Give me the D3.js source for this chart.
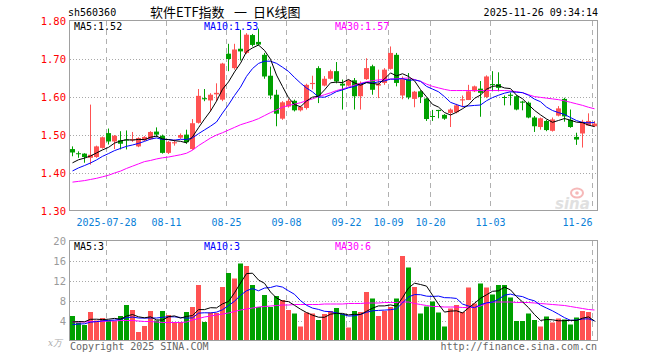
<!DOCTYPE html>
<html><head><meta charset="utf-8">
<script src="https://cdn.jsdelivr.net/npm/d3@7"></script>
<style>html,body{margin:0;padding:0;background:#fff}svg{display:block}</style>
</head><body>
<svg id="c" width="660" height="360"></svg>
<script>
const dates = ["2025-07-18","2025-07-21","2025-07-22","2025-07-23","2025-07-24","2025-07-25","2025-07-28","2025-07-29","2025-07-30","2025-07-31",
"2025-08-01","2025-08-04","2025-08-05","2025-08-06","2025-08-07","2025-08-08","2025-08-11","2025-08-12","2025-08-13","2025-08-14","2025-08-15","2025-08-18","2025-08-19","2025-08-20","2025-08-21","2025-08-22","2025-08-25","2025-08-26","2025-08-27","2025-08-28","2025-08-29",
"2025-09-01","2025-09-02","2025-09-03","2025-09-04","2025-09-05","2025-09-08","2025-09-09","2025-09-10","2025-09-11","2025-09-12","2025-09-15","2025-09-16","2025-09-17","2025-09-18","2025-09-19","2025-09-22","2025-09-23","2025-09-24","2025-09-25","2025-09-26","2025-09-29","2025-09-30",
"2025-10-09","2025-10-10","2025-10-13","2025-10-14","2025-10-15","2025-10-16","2025-10-17","2025-10-20","2025-10-21","2025-10-22","2025-10-23","2025-10-24","2025-10-27","2025-10-28","2025-10-29","2025-10-30","2025-10-31",
"2025-11-03","2025-11-04","2025-11-05","2025-11-06","2025-11-07","2025-11-10","2025-11-11","2025-11-12","2025-11-13","2025-11-14","2025-11-17","2025-11-18","2025-11-19","2025-11-20","2025-11-21","2025-11-24","2025-11-25","2025-11-26"];

const opens = [1.463,1.452,1.451,1.440,1.442,1.466,1.505,1.483,1.486,1.488,
1.486,1.470,1.486,1.489,1.509,1.498,1.453,1.478,1.493,1.501,
1.463,1.532,1.597,1.591,1.607,1.593,1.714,1.676,1.727,1.716,
1.763,1.745,1.711,1.656,1.606,1.543,1.575,1.590,1.565,1.571,
1.634,1.676,1.630,1.648,1.668,1.635,1.630,1.644,1.602,1.647,
1.681,1.630,1.637,1.674,1.711,1.604,1.647,1.595,1.615,1.596,
1.550,1.566,1.553,1.558,1.560,1.591,1.592,1.615,1.622,1.600,
1.634,1.634,1.600,1.606,1.602,1.588,1.585,1.546,1.521,1.537,
1.511,1.551,1.595,1.540,1.495,1.504,1.525,1.523];
const closes = [1.454,1.450,1.442,1.448,1.470,1.494,1.483,1.498,1.477,1.486,
1.489,1.492,1.495,1.508,1.501,1.453,1.482,1.481,1.500,1.481,
1.531,1.603,1.594,1.606,1.611,1.688,1.700,1.725,1.720,1.764,
1.737,1.738,1.654,1.604,1.556,1.586,1.590,1.565,1.574,1.632,
1.637,1.602,1.648,1.668,1.641,1.630,1.644,1.602,1.637,1.676,
1.619,1.634,1.672,1.716,1.637,1.647,1.599,1.614,1.600,1.542,
1.548,1.563,1.543,1.567,1.578,1.594,1.615,1.628,1.611,1.654,
1.632,1.624,1.598,1.603,1.567,1.585,1.546,1.523,1.544,1.513,
1.541,1.570,1.549,1.521,1.488,1.535,1.537,1.530];
const highs = [1.470,1.457,1.452,1.580,1.472,1.496,1.517,1.500,1.510,1.512,
1.508,1.494,1.497,1.510,1.520,1.501,1.484,1.488,1.504,1.514,
1.542,1.621,1.621,1.610,1.636,1.690,1.740,1.740,1.777,1.768,
1.766,1.780,1.716,1.680,1.619,1.589,1.595,1.593,1.577,1.635,
1.656,1.681,1.655,1.672,1.692,1.646,1.646,1.650,1.641,1.702,
1.685,1.672,1.676,1.733,1.716,1.654,1.663,1.616,1.618,1.598,
1.566,1.566,1.555,1.570,1.582,1.604,1.632,1.630,1.642,1.657,
1.668,1.665,1.604,1.612,1.605,1.590,1.588,1.550,1.546,1.540,
1.546,1.576,1.598,1.567,1.506,1.540,1.557,1.537];
const lows = [1.444,1.440,1.427,1.422,1.440,1.464,1.475,1.463,1.462,1.462,
1.482,1.468,1.484,1.487,1.495,1.451,1.450,1.472,1.490,1.477,
1.461,1.530,1.589,1.562,1.589,1.589,1.668,1.672,1.696,1.713,
1.733,1.735,1.648,1.594,1.523,1.540,1.572,1.562,1.562,1.567,
1.620,1.584,1.628,1.646,1.636,1.567,1.628,1.567,1.567,1.645,
1.606,1.597,1.632,1.672,1.628,1.594,1.594,1.573,1.584,1.537,
1.537,1.544,1.540,1.521,1.557,1.573,1.592,1.613,1.548,1.597,
1.615,1.615,1.578,1.578,1.565,1.565,1.544,1.508,1.514,1.510,
1.509,1.549,1.535,1.519,1.474,1.467,1.525,1.521];
const volumes = [5.0,3.7,3.2,5.8,4.1,4.6,4.1,4.0,5.0,7.2,
6.2,1.8,3.0,6.0,4.1,6.0,5.2,3.8,3.8,5.8,
6.8,11.2,3.8,5.7,5.6,10.8,13.6,12.5,15.5,15.0,
11.2,6.8,9.2,6.8,9.0,8.2,6.2,5.5,2.9,5.7,
5.5,4.2,5.4,6.0,6.6,5.4,2.7,6.0,5.8,9.8,
8.5,5.0,6.0,6.8,8.5,17.0,14.7,10.8,5.5,6.9,
7.9,5.7,2.9,6.5,7.2,5.8,10.7,7.5,11.5,10.7,
9.3,11.2,11.2,8.7,4.0,4.0,5.5,4.2,2.9,4.9,
3.7,4.5,4.3,3.3,4.7,6.0,5.8,0.2];
// closes / volumes of the 9 sessions before the window (read from MA starting levels)
const priorCloses = [1.37,1.38,1.38,1.39,1.40,1.41,1.42,1.42,1.43];
const priorVolumes = [2.5,2.8,2.6,3.0,2.9,3.2,3.5,3.3,4.0];
const ma30Price = [1.376,1.378,1.380,1.383,1.386,1.390,1.394,1.400,1.405,1.412,
1.418,1.424,1.430,1.433,1.437,1.440,1.442,1.445,1.448,1.452,
1.460,1.472,1.482,1.492,1.500,1.506,1.513,1.520,1.527,1.532,
1.537,1.543,1.551,1.559,1.566,1.573,1.578,1.581,1.585,1.590,
1.595,1.601,1.606,1.611,1.617,1.621,1.626,1.631,1.636,1.640,
1.643,1.645,1.646,1.647,1.648,1.649,1.650,1.646,1.641,1.634,
1.628,1.624,1.620,1.617,1.617,1.617,1.617,1.617,1.617,1.617,
1.617,1.617,1.617,1.616,1.614,1.611,1.606,1.601,1.599,1.597,
1.595,1.593,1.590,1.586,1.582,1.578,1.573,1.569];
const ma30Vol = [3.8,3.8,3.8,3.9,3.9,3.9,4.0,4.0,4.1,4.1,
4.1,4.0,3.9,3.9,3.8,3.7,3.7,3.7,3.7,3.8,
4.2,4.5,4.8,5.0,5.2,5.4,5.6,5.9,6.2,6.4,
6.6,6.8,6.9,7.0,7.1,7.2,7.2,7.3,7.3,7.3,
7.3,7.3,7.4,7.4,7.4,7.4,7.5,7.5,7.5,7.6,
7.6,7.6,7.7,7.7,7.7,7.8,7.8,7.5,7.3,7.1,
6.9,6.9,6.8,6.8,6.8,6.7,6.7,6.7,7.0,7.5,
7.8,7.8,7.8,7.8,7.7,7.7,7.7,7.6,7.5,7.4,
7.3,7.2,7.1,6.9,6.7,6.5,6.3,6.2];
const priceTicks = [1.30,1.40,1.50,1.60,1.70,1.80];
const volTicks = [4,8,12,16,20];
const dateTicks = ["2025-07-28","2025-08-11","2025-08-25","2025-09-08","2025-09-22","2025-10-09","2025-10-20","2025-11-03","2025-11-26"];
const dateTickLabels = ["2025-07-28","08-11","08-25","09-08","09-22","10-09","10-20","11-03","11-26"];
const maLabelsPrice = ["MA5:1.52","MA10:1.53","MA30:1.57"];
const maLabelsVol = ["MA5:3","MA10:3","MA30:6"];
const titleCode = "sh560360";
const titleParts = ["软件ETF指数", "一", "日K线图"];
const timeStamp = "2025-11-26 09:34:14";

const svg = d3.select("#c");
const MONO = "'DejaVu Sans Mono', 'Liberation Mono', monospace";
const CJK = "'Noto Sans CJK SC', sans-serif";
const RED = "#ff5252", GREEN = "#00a000";
const L = 70, R = 598;
const x = d3.scaleBand().domain(d3.range(dates.length)).range([L, R]).padding(0);
const yP = d3.scaleLinear().domain([1.30, 1.80]).range([211, 21]);
const yV = d3.scaleLinear().domain([0, 20]).range([341, 241]);
const cx = i => x(i) + 2.5;

// moving averages from closes
const ma = (prior, arr, n) => { const all = prior.concat(arr), o = prior.length;
  return arr.map((_, i) => d3.mean(all.slice(Math.max(0, i + o - n + 1), i + o + 1))); };
const ma5P = ma(priorCloses, closes, 5), ma10P = ma(priorCloses, closes, 10);
const ma5V = ma(priorVolumes, volumes, 5), ma10V = ma(priorVolumes, volumes, 10);

function panel(y, ticks, top, bottom, labelColor, fmt) {
  const g = svg.append("g");
  g.selectAll("line.h").data(ticks.filter(t => Math.round(y(t)) > top + 1 && Math.round(y(t)) < bottom - 1)).join("line")
    .attr("x1", L).attr("x2", R).attr("y1", d => Math.round(y(d)) + 0.5).attr("y2", d => Math.round(y(d)) + 0.5)
    .attr("stroke", "#a8a8a8").attr("stroke-dasharray", "1,2");
  g.selectAll("line.v").data(dateTicks).join("line")
    .attr("x1", d => x(dates.indexOf(d)) + 0.5).attr("x2", d => x(dates.indexOf(d)) + 0.5)
    .attr("y1", top).attr("y2", bottom)
    .attr("stroke", "#b0b0b0").attr("stroke-dasharray", "5,4");
  g.selectAll("text").data(ticks).join("text")
    .attr("x", 66).attr("y", d => y(d) + 4).attr("text-anchor", "end")
    .attr("font-family", MONO).attr("font-size", 10.5).attr("fill", labelColor).text(fmt);
  return g;
}
const pg = panel(yP, priceTicks, 21, 211, "#ff0000", d => d.toFixed(2));
const vg = panel(yV, volTicks, 241, 341, "#9a9a9a", d => d);
vg.append("text").attr("x", 62).attr("y", 346).attr("text-anchor", "end").attr("font-family", "'DejaVu Serif', serif")
  .attr("font-style", "italic").attr("font-size", 9).attr("fill", "#aaa").text("x万");

// sina watermark
const wm = svg.append("g").attr("opacity", 0.55);
wm.append("ellipse").attr("cx", 577).attr("cy", 193).attr("rx", 6).attr("ry", 4.5).attr("fill", "none").attr("stroke", "#f08080").attr("stroke-width", 2);
wm.append("circle").attr("cx", 577).attr("cy", 193).attr("r", 1.8).attr("fill", "#f08080");
wm.append("text").attr("x", 555).attr("y", 209).attr("font-family", "'DejaVu Sans', sans-serif").attr("font-weight", "bold")
  .attr("font-style", "italic").attr("font-size", 15).attr("fill", "#c8c8c8").text("sina");

// candles
const cg = svg.append("g");
const col = i => closes[i] >= opens[i] ? RED : GREEN;
cg.selectAll("line.w").data(d3.range(dates.length)).join("line")
  .attr("x1", i => x(i) + 2.5).attr("x2", i => x(i) + 2.5)
  .attr("y1", i => yP(highs[i])).attr("y2", i => yP(lows[i])).attr("stroke", col);
cg.selectAll("rect").data(d3.range(dates.length)).join("rect")
  .attr("x", i => x(i)).attr("width", 5)
  .attr("y", i => yP(Math.max(opens[i], closes[i])))
  .attr("height", i => Math.max(1, Math.abs(yP(opens[i]) - yP(closes[i]))))
  .attr("fill", col);

// volume bars
svg.append("g").selectAll("rect").data(d3.range(dates.length)).join("rect")
  .attr("x", i => x(i)).attr("width", 5)
  .attr("y", i => yV(volumes[i])).attr("height", i => yV(0) - yV(volumes[i])).attr("fill", col);

// MA lines
function maLine(vals, y, color) {
  svg.append("path").datum(vals).attr("fill", "none").attr("stroke", color).attr("stroke-width", 1)
    .attr("d", d3.line().x((d, i) => cx(i)).y(d => y(d)));
}
maLine(ma30Price, yP, "#ff00ff"); maLine(ma10P, yP, "#0000ff"); maLine(ma5P, yP, "#000000");
maLine(ma30Vol, yV, "#ff00ff"); maLine(ma10V, yV, "#0000ff"); maLine(ma5V, yV, "#000000");

// frames
[[21, 211], [241, 341]].forEach(([t, b]) => svg.append("rect").attr("x", L - 0.5).attr("y", t - 0.5)
  .attr("width", R - L).attr("height", b - t).attr("fill", "none").attr("stroke", "#a0a0a0"));

// MA labels
const maCols = ["#000", "#0000ff", "#ff00ff"], maX = [74, 204, 335];
maLabelsPrice.forEach((t, k) => svg.append("text").attr("x", maX[k]).attr("y", 30).attr("font-family", MONO)
  .attr("font-size", 10).attr("fill", maCols[k]).text(t));
maLabelsVol.forEach((t, k) => svg.append("text").attr("x", maX[k]).attr("y", 250).attr("font-family", MONO)
  .attr("font-size", 10).attr("fill", maCols[k]).text(t));

// date labels
svg.append("g").selectAll("text").data(dateTicks).join("text")
  .attr("x", d => x(dates.indexOf(d)) + 0.5)
  .attr("y", 226).attr("text-anchor", (d, k) => k === dateTicks.length - 1 ? "end" : "middle")
  .attr("font-family", MONO).attr("font-size", 10).attr("fill", "#0a80d8")
  .text((d, k) => dateTickLabels[k]);

// titles
svg.append("text").attr("x", 68).attr("y", 16).attr("font-family", MONO).attr("font-size", 10).attr("fill", "#000").text(titleCode);
const tX = [150, 234, 253];
titleParts.forEach((t, k) => svg.append("text").attr("x", tX[k]).attr("y", 17).attr("font-family", CJK)
  .attr("font-size", 13).attr("fill", "#000").text(t));
svg.append("text").attr("x", 598).attr("y", 16).attr("text-anchor", "end").attr("font-family", MONO).attr("font-size", 10)
  .attr("fill", "#000").text(timeStamp);
svg.append("text").attr("x", 70).attr("y", 350).attr("font-family", MONO).attr("font-size", 10).attr("fill", "#666").text("Copyright 2025 SINA.COM");
svg.append("text").attr("x", 597).attr("y", 350).attr("text-anchor", "end").attr("font-family", MONO).attr("font-size", 10).attr("fill", "#666").text("http://finance.sina.com.cn");
</script>
</body></html>
